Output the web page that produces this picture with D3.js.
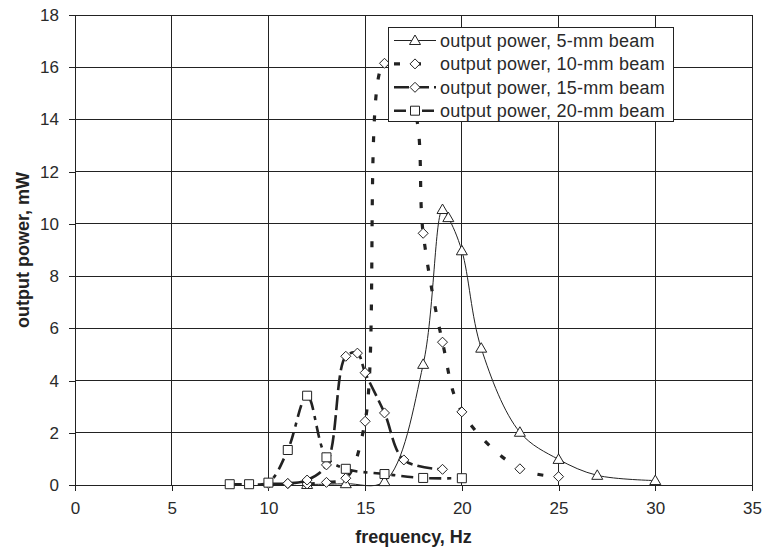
<!DOCTYPE html>
<html><head><meta charset="utf-8">
<script src="https://cdn.jsdelivr.net/npm/d3@7"></script>
<style>
html,body{margin:0;padding:0;background:#fff;}
svg{display:block;font-family:"Liberation Sans",Arial,sans-serif;}
</style></head>
<body><svg id="c" width="764" height="552"></svg>
<script>
// ---- data ----
const xTicks = [0,5,10,15,20,25,30,35];
const yTicks = [0,2,4,6,8,10,12,14,16,18];
const seriesNames = ["output power, 5-mm beam","output power, 10-mm beam","output power, 15-mm beam","output power, 20-mm beam"];
const freq5  = [12,14,16,18,19,19.3,20,21,23,25,27,30];
const power5 = [0.02,0.05,0.13,4.62,10.55,10.24,8.97,5.24,2.02,0.98,0.37,0.17];
const freq10  = [11,12,13,14,15,16,17.5,18,19,20,23,25];
const power10 = [0.05,0.04,0.1,0.26,2.44,16.15,14.5,9.64,5.47,2.8,0.62,0.32];
const freq15  = [10,11,12,13,14,14.6,15,16,17,19];
const power15 = [0.05,0.06,0.19,0.77,4.93,5.05,4.3,2.76,0.96,0.6];
const freq20  = [8,9,10,11,12,13,14,16,18,20];
const power20 = [0.03,0.03,0.09,1.34,3.42,1.06,0.62,0.42,0.27,0.26];
const xLabel = "frequency, Hz";
const yLabel = "output power, mW";

// ---- layout ----
const svg = d3.select("#c");
const L = 75, R = 752, T = 15, B = 485;
const x = d3.scaleLinear().domain([0,35]).range([L,R]);
const y = d3.scaleLinear().domain([0,18]).range([B,T]);
const ink = "#222";

// grid
const g = svg.append("g");
g.selectAll(".vg").data(xTicks.filter(d=>d>0)).join("line")
  .attr("x1",d=>x(d)).attr("x2",d=>x(d)).attr("y1",T).attr("y2",B)
  .attr("stroke",ink).attr("stroke-width",1).attr("shape-rendering","crispEdges");
g.selectAll(".hg").data(yTicks.filter(d=>d>0)).join("line")
  .attr("x1",L).attr("x2",R).attr("y1",d=>y(d)).attr("y2",d=>y(d))
  .attr("stroke",ink).attr("stroke-width",1).attr("shape-rendering","crispEdges");

// axes
const ax = svg.append("g").attr("transform",`translate(0,${B})`)
  .call(d3.axisBottom(x).tickValues(xTicks).tickSize(6).tickSizeOuter(0).tickPadding(11));
const ay = svg.append("g").attr("transform",`translate(${L},0)`)
  .call(d3.axisLeft(y).tickValues(yTicks).tickSize(6).tickSizeOuter(0).tickPadding(10));
[ax,ay].forEach(a=>{
  a.selectAll("path,line").attr("stroke",ink).attr("shape-rendering","crispEdges");
  a.selectAll("text").attr("fill","#2a2a2a").style("font-size","17px").style("font-family","Liberation Sans, Arial, sans-serif");
});

svg.append("text").attr("x",(L+R)/2).attr("y",543).attr("text-anchor","middle")
  .style("font-size","18px").style("font-weight","bold").attr("fill",ink).text(xLabel);
svg.append("text").attr("transform",`translate(29,${(T+B)/2}) rotate(-90)`).attr("text-anchor","middle")
  .style("font-size","18px").style("font-weight","bold").attr("fill",ink).text(yLabel);

// series
const curve = d3.curveCatmullRom.alpha(0.5);
const series = [
  {f:freq5, p:power5, width:1, dash:null, marker:"tri"},
  {f:freq10,p:power10,width:3.2,dash:"6,15",marker:"dia"},
  {f:freq15,p:power15,width:2.6,dash:"15,5",marker:"dia"},
  {f:freq20,p:power20,width:2.6,dash:"12,6,4,6",marker:"sq"}
];
function markerPath(type){
  if(type==="tri") return "M0,-5.5L5.5,4L-5.5,4Z";
  if(type==="dia") return "M0,-5L5,0L0,5L-5,0Z";
  return "M-4.5,-4.5H4.5V4.5H-4.5Z";
}
const line = d3.line().curve(curve).x(d=>x(d[0])).y(d=>y(d[1]));
series.forEach(s=>{
  const pts = s.f.map((f,i)=>[f,s.p[i]]);
  svg.append("path").attr("d",line(pts)).attr("fill","none").attr("stroke",ink)
    .attr("stroke-width",s.width).attr("stroke-dasharray",s.dash);
});
series.forEach(s=>{
  const pts = s.f.map((f,i)=>[f,s.p[i]]);
  svg.append("g").selectAll("path").data(pts).join("path")
    .attr("transform",d=>`translate(${x(d[0])},${y(d[1])})`)
    .attr("d",markerPath(s.marker)).attr("fill","#fff").attr("stroke",ink).attr("stroke-width",1);
});

// legend
const lg = svg.append("g");
lg.append("rect").attr("x",388.5).attr("y",27.5).attr("width",285).attr("height",94)
  .attr("fill","#fff").attr("stroke",ink).attr("stroke-width",1);
series.forEach((s,i)=>{
  const yy = 40.5 + i*23.4;
  lg.append("line").attr("x1",394).attr("x2",436).attr("y1",yy).attr("y2",yy)
    .attr("stroke",ink).attr("stroke-width",s.width).attr("stroke-dasharray",s.dash);
  lg.append("path").attr("transform",`translate(415,${yy})`).attr("d",markerPath(s.marker))
    .attr("fill","#fff").attr("stroke",ink);
  lg.append("text").attr("x",440).attr("y",yy).attr("dy","0.36em")
    .style("font-size","18px").style("letter-spacing","0.25px").attr("fill","#2a2a2a").text(seriesNames[i]);
});
</script></body></html>
